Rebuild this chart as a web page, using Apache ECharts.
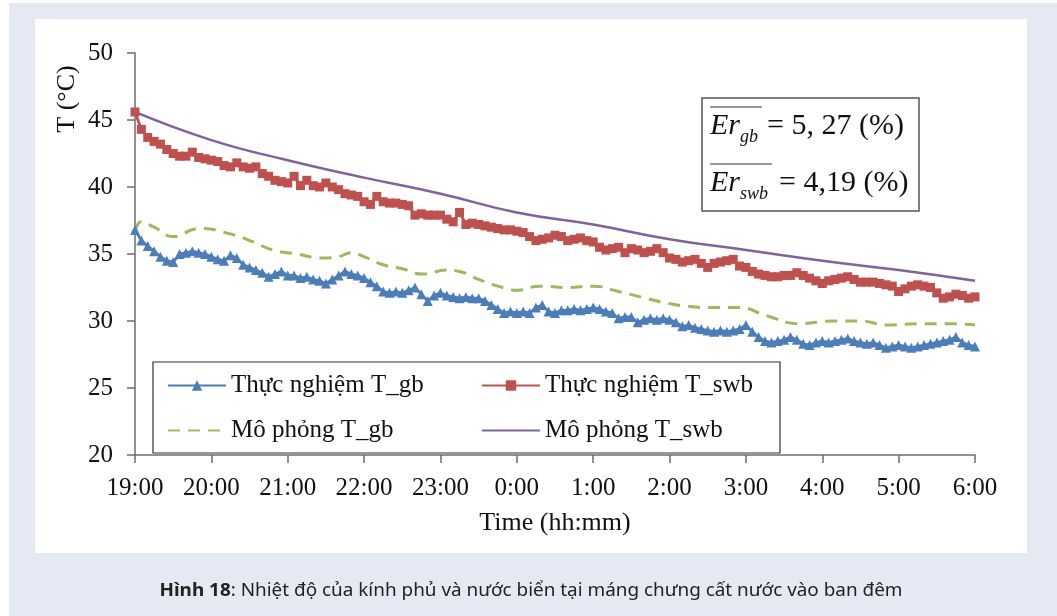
<!DOCTYPE html>
<html><head><meta charset="utf-8">
<script src="https://cdn.jsdelivr.net/npm/echarts@6/dist/echarts.min.js"></script>
<style>
html,body{margin:0;padding:0;background:#fff;overflow:hidden;}
#bg{position:absolute;left:9px;top:3px;width:1048px;height:613px;background:#e5e9f4;}
#panel{position:absolute;left:35px;top:19px;width:992px;height:534px;background:#fff;}
#chart{position:absolute;left:0;top:0;width:1057px;height:616px;}
</style></head><body>
<div id="bg"></div><div id="panel"></div><div id="chart"></div>
<script>
// ---- data ----
const TIME_LABELS = ['19:00','20:00','21:00','22:00','23:00','0:00','1:00','2:00','3:00','4:00','5:00','6:00'];
const STEP_MIN = 5; // measured every 5 minutes from 19:00
const SERIES_NAMES = ['Thực nghiệm T_gb','Thực nghiệm T_swb','Mô phỏng T_gb','Mô phỏng T_swb'];

const T_GB_MEAS = [
  36.8,36.0,35.6,35.2,34.8,34.5,34.4,35.0,35.1,35.2,35.1,35.0,
  34.8,34.6,34.5,34.9,34.7,34.2,34.0,33.8,33.6,33.3,33.5,33.7,
  33.4,33.4,33.2,33.3,33.1,33.0,32.8,33.1,33.4,33.7,33.5,33.4,
  33.2,32.9,32.6,32.2,32.1,32.2,32.1,32.3,32.5,32.0,31.5,31.9,
  32.1,31.9,31.8,31.7,31.8,31.7,31.7,31.5,31.2,30.9,30.6,30.7,
  30.6,30.7,30.6,31.0,31.2,30.7,30.6,30.8,30.8,30.9,30.8,30.9,
  31.0,30.9,30.7,30.6,30.2,30.3,30.3,29.9,30.1,30.2,30.1,30.2,
  30.1,29.9,29.6,29.7,29.5,29.4,29.3,29.2,29.3,29.2,29.3,29.4,
  29.7,29.2,28.8,28.5,28.4,28.5,28.6,28.8,28.6,28.3,28.2,28.4,
  28.5,28.4,28.5,28.6,28.7,28.5,28.4,28.3,28.4,28.2,28.0,28.1,
  28.2,28.1,28.0,28.1,28.2,28.3,28.4,28.5,28.6,28.8,28.4,28.2,
  28.1
];
const T_SWB_MEAS = [
  45.6,44.3,43.7,43.4,43.2,42.8,42.5,42.3,42.3,42.6,42.2,42.1,
  42.0,41.9,41.6,41.5,41.8,41.5,41.4,41.5,41.0,40.8,40.5,40.4,
  40.3,40.8,40.1,40.5,40.1,40.0,40.3,40.0,39.8,39.5,39.4,39.3,
  38.9,38.7,39.3,38.9,38.8,38.8,38.7,38.6,37.9,38.0,37.9,37.9,
  37.9,37.6,37.4,38.1,37.2,37.3,37.2,37.1,37.0,36.9,36.8,36.8,
  36.7,36.6,36.3,36.0,36.1,36.2,36.4,36.3,36.0,36.1,36.2,36.0,
  35.9,35.5,35.3,35.4,35.5,35.1,35.4,35.3,35.1,35.2,35.4,35.1,
  34.7,34.6,34.4,34.5,34.6,34.3,34.0,34.3,34.4,34.5,34.6,34.1,
  34.0,33.7,33.5,33.4,33.3,33.3,33.4,33.4,33.6,33.4,33.2,33.0,
  32.8,33.0,33.1,33.2,33.3,33.1,32.9,32.9,32.9,32.8,32.7,32.6,
  32.2,32.4,32.6,32.7,32.6,32.5,32.1,31.7,31.8,32.0,31.9,31.7,
  31.8
];
// simulated glass temperature: minutes after 19:00 and value
const T_GB_SIM_MIN = [0,5,15,30,50,75,93,108,127,148,160,170,180,195,210,226,245,255,270,285,300,318,340,360,380,397,415,434,455,475,496,522,548,570,591,617,638,660];
const T_GB_SIM     = [36.7,37.4,37.0,36.3,36.9,36.5,35.9,35.3,35.0,34.7,34.8,35.1,34.8,34.2,33.9,33.5,33.8,33.7,33.1,32.6,32.3,32.6,32.5,32.6,32.2,31.8,31.4,31.1,31.0,31.0,30.4,29.8,30.0,30.0,29.7,29.8,29.8,29.7];
// simulated seawater temperature, hourly
const T_SWB_SIM_MIN = [0,60,120,180,240,300,360,420,480,540,600,660];
const T_SWB_SIM     = [45.6,43.5,42.0,40.7,39.5,38.1,37.2,36.1,35.3,34.5,33.8,33.0];

const ER_LINES = [
  {sub:'gb', value:'= 5, 27 (%)'},
  {sub:'swb', value:'= 4,19 (%)'}
];
const CAPTION_BOLD = 'Hình 18';
const CAPTION_REST = ': Nhiệt độ của kính phủ và nước biển tại máng chưng cất nước vào ban đêm';

// ---- build ----
const measPairs = arr => arr.map((v,i)=>[i*STEP_MIN, v]);
const simPairs = (xs, ys) => xs.map((x,i)=>[x, ys[i]]);

const SERIF = 'Liberation Serif';
const COLORS = {blue:'#4a7ebb', red:'#c0504d', green:'#9bbb59', purple:'#7e62a1'};

const ctx = document.createElement('canvas').getContext('2d');
ctx.font = 'bold 18px "Noto Sans"'; const w1 = ctx.measureText(CAPTION_BOLD).width;
ctx.font = '18px "Noto Sans"'; const w2 = ctx.measureText(CAPTION_REST).width;
const capScale = 743/(w1+w2);

const chart = echarts.init(document.getElementById('chart'), null, {renderer:'canvas'});
const graphics = [
  {type:'text', x:67, y:99, rotation:Math.PI/2, z:10,
   style:{text:'T (°C)', fontFamily:SERIF, fontSize:26, fill:'#111', align:'center', verticalAlign:'middle'}},
  {type:'rect', shape:{x:702, y:98, width:217, height:113}, z:10,
   style:{fill:'#fff', stroke:'#555', lineWidth:1.5}},
  {type:'text', x:531, y:591, scaleX:capScale, z:10,
   style:{text:'{b|'+CAPTION_BOLD+'}'+CAPTION_REST, fontFamily:'Noto Sans', fontSize:18, fill:'#222',
          align:'center', verticalAlign:'middle',
          rich:{b:{fontFamily:'Noto Sans', fontSize:18, fontWeight:'bold', fill:'#222'}}}}
];
const erBase = [126, 183];
const subX = 740;
ER_LINES.forEach((l, i) => {
  const y = erBase[i];
  graphics.push({type:'text', x:710, y:y, z:11, style:{text:'Er', fontFamily:SERIF, fontStyle:'italic', fontSize:30, fill:'#111', align:'left', verticalAlign:'middle'}});
  graphics.push({type:'text', x:subX, y:y+11, z:11, style:{text:l.sub, fontFamily:SERIF, fontStyle:'italic', fontSize:18, fill:'#111', align:'left', verticalAlign:'middle'}});
  const valX = i === 0 ? 767 : 779;
  graphics.push({type:'text', x:valX, y:y, z:11, style:{text:l.value, fontFamily:SERIF, fontSize:30, fill:'#111', align:'left', verticalAlign:'middle'}});
  const lineEnd = i === 0 ? 762 : 772;
  graphics.push({type:'line', z:11, shape:{x1:710, y1:y-19, x2:lineEnd, y2:y-19}, style:{stroke:'#333', lineWidth:1.2}});
});

chart.setOption({
  animation:false,
  backgroundColor:'transparent',
  grid:{left:135, right:82, top:53, bottom:161, containLabel:false},
  xAxis:{
    type:'value', min:0, max:660, interval:60,
    name:'Time (hh:mm)', nameLocation:'middle', nameGap:55,
    nameTextStyle:{fontFamily:SERIF, fontSize:26, color:'#111'},
    axisLine:{show:true, lineStyle:{color:'#6d6d6d', width:1.5}},
    axisTick:{show:true, length:8, lineStyle:{color:'#6d6d6d', width:1.5}},
    axisLabel:{margin:21, fontFamily:SERIF, fontSize:25, color:'#111',
      formatter: v => TIME_LABELS[Math.round(v/60)]},
    splitLine:{show:false}
  },
  yAxis:{
    type:'value', min:20, max:50, interval:5,
    axisLine:{show:true, lineStyle:{color:'#6d6d6d', width:1.5}},
    axisTick:{show:true, length:8, lineStyle:{color:'#6d6d6d', width:1.5}},
    axisLabel:{margin:22, fontFamily:SERIF, fontSize:25, color:'#111'},
    splitLine:{show:false}
  },
  legend:{
    left:153, top:362, orient:'horizontal', width:610,
    padding:[11,5,10,14], itemGap:20, itemWidth:58, itemHeight:13,
    borderColor:'#333', borderWidth:1.2, backgroundColor:'#fff',
    textStyle:{fontFamily:SERIF, fontSize:25, color:'#111', width:230, lineHeight:20},
    data:[
      {name:SERIES_NAMES[0]},
      {name:SERIES_NAMES[1]},
      {name:SERIES_NAMES[2], itemStyle:{opacity:0}},
      {name:SERIES_NAMES[3], itemStyle:{opacity:0}}
    ]
  },
  graphic:graphics,
  series:[
    {name:SERIES_NAMES[3], type:'line', data:simPairs(T_SWB_SIM_MIN, T_SWB_SIM), smooth:true, symbol:'none',
     lineStyle:{color:COLORS.purple, width:2.5}, itemStyle:{color:COLORS.purple}, z:2},
    {name:SERIES_NAMES[2], type:'line', data:simPairs(T_GB_SIM_MIN, T_GB_SIM), smooth:true, symbol:'none',
     lineStyle:{color:COLORS.green, width:3, type:[12,8]}, itemStyle:{color:COLORS.green}, z:2},
    {name:SERIES_NAMES[0], type:'line', data:measPairs(T_GB_MEAS), symbol:'triangle', symbolSize:10,
     lineStyle:{color:COLORS.blue, width:2.8}, itemStyle:{color:COLORS.blue}, z:3},
    {name:SERIES_NAMES[1], type:'line', data:measPairs(T_SWB_MEAS), symbol:'rect', symbolSize:9,
     lineStyle:{color:COLORS.red, width:2.8}, itemStyle:{color:COLORS.red}, z:3}
  ]
});
</script>
</body></html>
